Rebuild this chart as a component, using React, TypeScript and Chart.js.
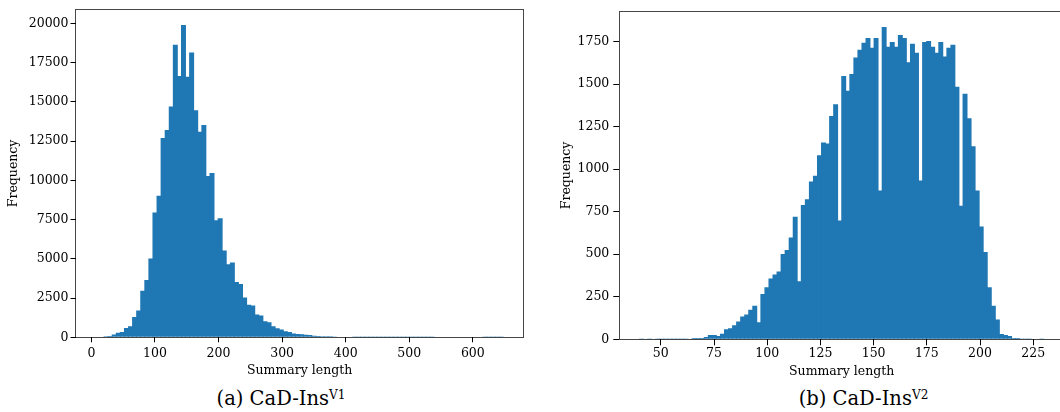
import React, { useEffect, useRef } from "react";
import { Chart, registerables } from "chart.js";

Chart.register(...registerables);

// ---------- Panel (a): CaD-Ins V1 ----------
const BIN_START_A = 7;
const BIN_END_A = 648;
const COUNTS_A = [
  30, 40, 60, 90, 180, 290, 330, 600, 700, 1290,
  1710, 2960, 3650, 5020, 7960, 9020, 12710, 13210, 14710, 18650,
  16650, 19900, 16610, 18150, 14470, 13110, 13530, 10280, 10470, 7460,
  7590, 5540, 4650, 4770, 3520, 3400, 2540, 2080, 2020, 1460,
  1390, 1020, 960, 710, 580, 500, 390, 330, 250, 210,
  200, 160, 140, 100, 80, 70, 60, 60, 45, 40,
  35, 30, 30, 12, 10, 8, 6, 5, 4, 4,
  3, 3, 2, 2, 2, 2, 2, 2, 2, 2,
  2, 2, 4, 35, 40, 35, 40, 35, 40, 35,
  40, 35, 30, 30, 35, 3, 2, 1, 1, 1,
];
const X_TICKS_A = [0, 100, 200, 300, 400, 500, 600];
const Y_TICKS_A = [0, 2500, 5000, 7500, 10000, 12500, 15000, 17500, 20000];

// ---------- Panel (b): CaD-Ins V2 ----------
const BIN_START_B = 40;
const BIN_END_B = 230;
const COUNTS_B = [
  1, 0, 1, 0, 1, 1, 1, 2, 1, 1,
  2, 2, 3, 8, 8, 8, 13, 25, 25, 19,
  33, 59, 65, 82, 105, 134, 146, 174, 197, 100,
  266, 306, 358, 381, 398, 502, 525, 599, 720, 341,
  789, 823, 927, 961, 1082, 1157, 1151, 1312, 1381, 699,
  1547, 1461, 1559, 1656, 1702, 1743, 1771, 1714, 1771, 875,
  1835, 1720, 1748, 1720, 1789, 1771, 1628, 1737, 1685, 933,
  1748, 1754, 1720, 1685, 1748, 1662, 1714, 1731, 1484, 785,
  1444, 1300, 1134, 875, 663, 513, 306, 197, 117, 31,
  25, 19, 8, 8, 2, 1, 1, 0, 0, 1,
];
const X_TICKS_B = [50, 75, 100, 125, 150, 175, 200, 225];
const Y_TICKS_B = [0, 250, 500, 750, 1000, 1250, 1500, 1750];

const X_TITLE = "Summary length";
const Y_TITLE = "Frequency";
const CAPTION_BASE = "CaD-Ins";

const BAR_COLOR = "#1f77b4";
const FONT = "'DejaVu Serif', serif";

function binCenters(start: number, end: number, n: number): number[] {
  const w = (end - start) / n;
  return Array.from({ length: n }, (_, i) => start + w * (i + 0.5));
}

const frameBox = {
  id: "frameBox",
  afterDatasetsDraw(chart: any) {
    const { ctx, chartArea } = chart;
    const l = Math.floor(chartArea.left) + 0.5;
    const t = Math.floor(chartArea.top) + 0.5;
    const r = Math.floor(chartArea.right) + 0.5;
    const b = Math.floor(chartArea.bottom) + 0.5;
    ctx.save();
    ctx.strokeStyle = "rgba(0,0,0,0.72)";
    ctx.lineWidth = 1;
    ctx.strokeRect(l, t, r - l, b - t);
    ctx.restore();
  },
};

type PanelProps = {
  counts: number[];
  start: number;
  end: number;
  xTicks: number[];
  yTicks: number[];
  left: number;
  width: number;
  height: number;
  pad: { left: number; top: number; right: number; bottom: number };
  yAxisW: number;
  xAxisH: number;
  xTickLen: number;
  xTickPad: number;
  yTickLen: number;
  yTickPad: number;
  yTitlePad: number;
};

function Histogram(p: PanelProps) {
  const ref = useRef<HTMLCanvasElement | null>(null);
  useEffect(() => {
    if (!ref.current) return;
    const centers = binCenters(p.start, p.end, p.counts.length);
    const data = centers.map((x, i) => ({ x, y: p.counts[i] }));
    const span = p.end - p.start;
    const yMax = Math.max(...p.counts) * 1.05;
    const tickFont = { family: FONT, size: 12.5 };
    const chart = new Chart(ref.current, {
      type: "bar",
      data: {
        datasets: [
          {
            data,
            backgroundColor: BAR_COLOR,
            borderWidth: 0,
            inflateAmount: 0,
            barPercentage: 1.22,
            categoryPercentage: 1,
          } as any,
        ],
      },
      options: {
        animation: false,
        responsive: false,
        maintainAspectRatio: false,
        devicePixelRatio: 1,
        layout: { padding: p.pad },
        plugins: { legend: { display: false }, tooltip: { enabled: false } },
        scales: {
          x: {
            type: "linear",
            offset: false,
            min: p.start - 0.05 * span,
            max: p.end + 0.05 * span,
            afterBuildTicks: (s: any) => {
              s.ticks = p.xTicks.map((v) => ({ value: v }));
            },
            afterFit: (s: any) => {
              s.height = p.xAxisH;
            },
            grid: {
              display: true,
              offset: false,
              drawOnChartArea: false,
              drawTicks: true,
              tickLength: p.xTickLen,
              tickColor: "#000",
              color: "#000",
              lineWidth: 1,
            },
            border: { display: false },
            ticks: {
              autoSkip: false,
              maxRotation: 0,
              padding: p.xTickPad,
              color: "#000",
              font: tickFont,
              callback: (v: any) => String(v),
            },
            title: {
              display: true,
              text: X_TITLE,
              color: "#000",
              font: tickFont,
              padding: { top: 0, bottom: 0 },
            },
          },
          y: {
            type: "linear",
            min: 0,
            max: yMax,
            afterBuildTicks: (s: any) => {
              s.ticks = p.yTicks.map((v) => ({ value: v }));
            },
            afterFit: (s: any) => {
              s.width = p.yAxisW;
            },
            grid: {
              display: true,
              drawOnChartArea: false,
              drawTicks: true,
              tickLength: p.yTickLen,
              tickColor: "#000",
              color: "#000",
              lineWidth: 1,
            },
            border: { display: false },
            ticks: {
              autoSkip: false,
              padding: p.yTickPad,
              color: "#000",
              font: tickFont,
              callback: (v: any) => String(v),
            },
            title: {
              display: true,
              text: Y_TITLE,
              color: "#000",
              font: tickFont,
              padding: { top: p.yTitlePad, bottom: 0 },
            },
          },
        },
      } as any,
      plugins: [frameBox],
    });
    return () => chart.destroy();
  }, []);
  return (
    <canvas
      ref={ref}
      width={p.width}
      height={p.height}
      style={{ position: "absolute", left: p.left, top: 0, width: p.width, height: p.height }}
    />
  );
}

function Caption({ center, tag, sup }: { center: number; tag: string; sup: string }) {
  return (
    <div
      style={{
        position: "absolute",
        left: center - 120,
        width: 240,
        top: 389,
        textAlign: "center",
        fontFamily: FONT,
        fontSize: 19.5,
        lineHeight: "20px",
        color: "#000",
        whiteSpace: "nowrap",
      }}
    >
      {tag} {CAPTION_BASE}
      <span style={{ fontSize: "0.62em", position: "relative", top: "-0.5em" }}>{sup}</span>
    </div>
  );
}

export default function App() {
  return (
    <div
      style={{
        position: "fixed",
        left: 0,
        top: 0,
        width: 1060,
        height: 412,
        overflow: "hidden",
        background: "#fff",
      }}
    >
      <Histogram
        counts={COUNTS_A}
        start={BIN_START_A}
        end={BIN_END_A}
        xTicks={X_TICKS_A}
        yTicks={Y_TICKS_A}
        left={0}
        width={530}
        height={380}
        pad={{ left: 0, top: 3, right: 6.3, bottom: 1.8 }}
        yAxisW={75.5}
        xAxisH={40.9}
        xTickLen={5}
        xTickPad={3.6}
        yTickLen={5}
        yTickPad={2}
        yTitlePad={6.5}
      />
      <Histogram
        counts={COUNTS_B}
        start={BIN_START_B}
        end={BIN_END_B}
        xTicks={X_TICKS_B}
        yTicks={Y_TICKS_B}
        left={530}
        width={540}
        height={380}
        pad={{ left: 0, top: 4, right: 5.9, bottom: 0.8 }}
        yAxisW={89.3}
        xAxisH={39.9}
        xTickLen={6}
        xTickPad={1.2}
        yTickLen={6}
        yTickPad={4}
        yTitlePad={29.2}
      />
      <Caption center={281} tag="(a)" sup="V1" />
      <Caption center={863.5} tag="(b)" sup="V2" />
    </div>
  );
}
